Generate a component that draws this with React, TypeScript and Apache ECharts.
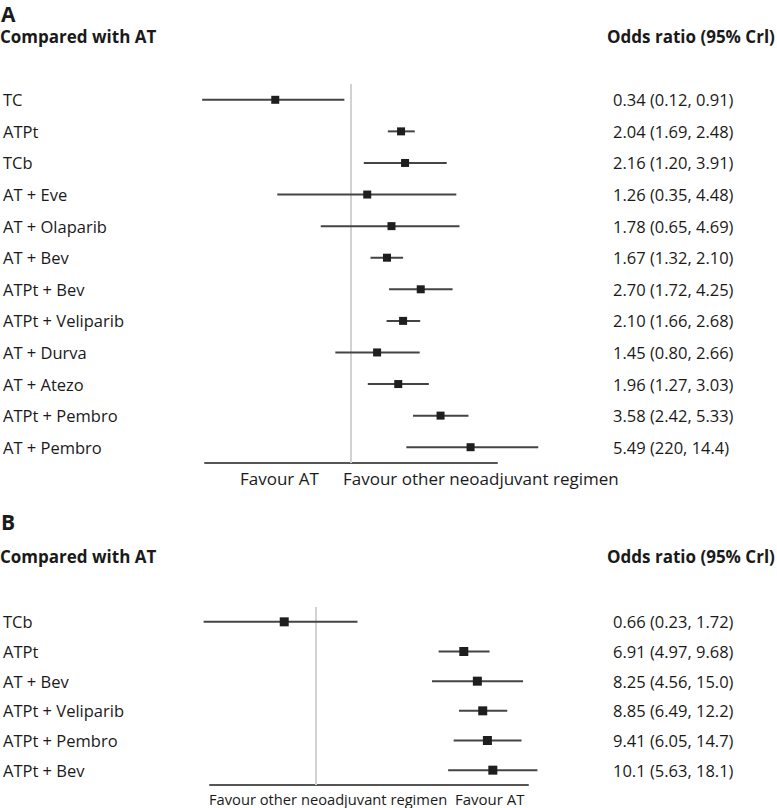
import React, { useEffect, useRef } from "react";
import * as echarts from "echarts";

const catsA = ["TC", "ATPt", "TCb", "AT + Eve", "AT + Olaparib", "AT + Bev", "ATPt + Bev", "ATPt + Veliparib", "AT + Durva", "AT + Atezo", "ATPt + Pembro", "AT + Pembro"];
const orA = [0.34, 2.04, 2.16, 1.26, 1.78, 1.67, 2.7, 2.1, 1.45, 1.96, 3.58, 5.49];
const lowA = [0.12, 1.69, 1.2, 0.35, 0.65, 1.32, 1.72, 1.66, 0.8, 1.27, 2.42, 2.2];
const highA = [0.91, 2.48, 3.91, 4.48, 4.69, 2.1, 4.25, 2.68, 2.66, 3.03, 5.33, 14.4];
const textA = ["0.34 (0.12, 0.91)", "2.04 (1.69, 2.48)", "2.16 (1.20, 3.91)", "1.26 (0.35, 4.48)", "1.78 (0.65, 4.69)", "1.67 (1.32, 2.10)", "2.70 (1.72, 4.25)", "2.10 (1.66, 2.68)", "1.45 (0.80, 2.66)", "1.96 (1.27, 3.03)", "3.58 (2.42, 5.33)", "5.49 (220, 14.4)"];

const catsB = ["TCb", "ATPt", "AT + Bev", "ATPt + Veliparib", "ATPt + Pembro", "ATPt + Bev"];
const orB = [0.66, 6.91, 8.25, 8.85, 9.41, 10.1];
const lowB = [0.23, 4.97, 4.56, 6.49, 6.05, 5.63];
const highB = [1.72, 9.68, 15.0, 12.2, 14.7, 18.1];
const textB = ["0.66 (0.23, 1.72)", "6.91 (4.97, 9.68)", "8.25 (4.56, 15.0)", "8.85 (6.49, 12.2)", "9.41 (6.05, 14.7)", "10.1 (5.63, 18.1)"];

const refValue = 1;

const FONT = "'Open Sans', sans-serif";
const TXT = "#1a1a1a";

function makeSeries(idx: number, low: number[], high: number[], or: number[], size: number) {
  return {
    type: "custom",
    xAxisIndex: idx,
    yAxisIndex: idx * 2,
    clip: false,
    z: 3,
    encode: { x: [0, 1, 2], y: 3 },
    data: or.map((v, i) => [low[i], high[i], v, i]),
    renderItem: (params: any, api: any) => {
      const yi = api.value(3);
      const p1 = api.coord([api.value(0), yi]);
      const p2 = api.coord([api.value(1), yi]);
      const pm = api.coord([api.value(2), yi]);
      const children: any[] = [];
      if (params.dataIndex === 0) {
        const cs = params.coordSys;
        const rx = api.coord([refValue, yi])[0];
        children.push({ type: "line", shape: { x1: rx, y1: cs.y, x2: rx, y2: cs.y + cs.height }, style: { stroke: "#d2d2d2", lineWidth: 2 } });
      }
      children.push({ type: "line", shape: { x1: p1[0], y1: p1[1], x2: p2[0], y2: p2[1] }, style: { stroke: "#444", lineWidth: 2 } });
      children.push({ type: "rect", shape: { x: pm[0] - size / 2, y: pm[1] - size / 2, width: size, height: size }, style: { fill: "#1e1e1e" } });
      return { type: "group", children };
    },
  };
}

export default function App() {
  const ref = useRef<HTMLDivElement>(null);
  useEffect(() => {
    if (!ref.current) return;
    const chart = echarts.init(ref.current, null, { renderer: "svg" });
    const gA = { left: 205, top: 84, width: 292, height: 379 };
    const gB = { left: 210, top: 607, width: 318, height: 178 };
    const xAxisCommon = {
      type: "log",
      logBase: 2,
      axisLine: { show: true, lineStyle: { color: "#555", width: 2 } },
      axisTick: { show: false },
      axisLabel: { show: false },
      splitLine: { show: false },
    };
    const yLeft = (cats: string[], g: any) => ({
      type: "category",
      data: cats,
      inverse: true,
      axisLine: { show: false },
      axisTick: { show: false },
      splitLine: { show: false },
      axisLabel: { align: "left", margin: g.left - 3, fontSize: 16.5, color: TXT, fontFamily: FONT },
    });
    const yRight = (texts: string[], g: any) => ({
      type: "category",
      position: "right",
      data: texts,
      inverse: true,
      axisLine: { show: false },
      axisTick: { show: false },
      splitLine: { show: false },
      axisLabel: { align: "left", margin: 613 - (g.left + g.width), fontSize: 16.5, color: TXT, fontFamily: FONT },
    });
    const option: any = {
      animation: false,
      backgroundColor: "#ffffff",
      grid: [gA, gB],
      xAxis: [
        { ...xAxisCommon, gridIndex: 0, min: 0.125, max: 8 },
        { ...xAxisCommon, gridIndex: 1, min: 0.25, max: 16 },
      ],
      yAxis: [
        { ...yLeft(catsA, gA), gridIndex: 0 },
        { ...yRight(textA, gA), gridIndex: 0 },
        { ...yLeft(catsB, gB), gridIndex: 1 },
        { ...yRight(textB, gB), gridIndex: 1 },
      ],
      series: [makeSeries(0, lowA, highA, orA, 8), makeSeries(1, lowB, highB, orB, 9)],
      graphic: [
        { type: "text", left: 1, top: 3, style: { text: "A", font: `bold 21px ${FONT}`, fill: TXT } },
        { type: "text", left: 0, top: 28, style: { text: "Compared with AT", font: `bold 17px ${FONT}`, fill: TXT } },
        { type: "text", left: 607, top: 28, style: { text: "Odds ratio (95% Crl)", font: `bold 17px ${FONT}`, fill: TXT } },
        { type: "text", left: 240, top: 470, style: { text: "Favour AT", font: `17px ${FONT}`, fill: TXT } },
        { type: "text", left: 343, top: 470, style: { text: "Favour other neoadjuvant regimen", font: `17px ${FONT}`, fill: TXT } },
        { type: "text", left: 1, top: 511, style: { text: "B", font: `bold 21px ${FONT}`, fill: TXT } },
        { type: "text", left: 0, top: 548, style: { text: "Compared with AT", font: `bold 17px ${FONT}`, fill: TXT } },
        { type: "text", left: 607, top: 548, style: { text: "Odds ratio (95% Crl)", font: `bold 17px ${FONT}`, fill: TXT } },
        { type: "text", left: 209, top: 791, style: { text: "Favour other neoadjuvant regimen", font: `14.7px ${FONT}`, fill: TXT } },
        { type: "text", left: 455, top: 791, style: { text: "Favour AT", font: `15px ${FONT}`, fill: TXT } },
      ],
    };
    chart.setOption(option);
    return () => chart.dispose();
  }, []);
  return <div ref={ref} style={{ position: "absolute", left: 0, top: 0, width: 777, height: 808 }} />;
}
